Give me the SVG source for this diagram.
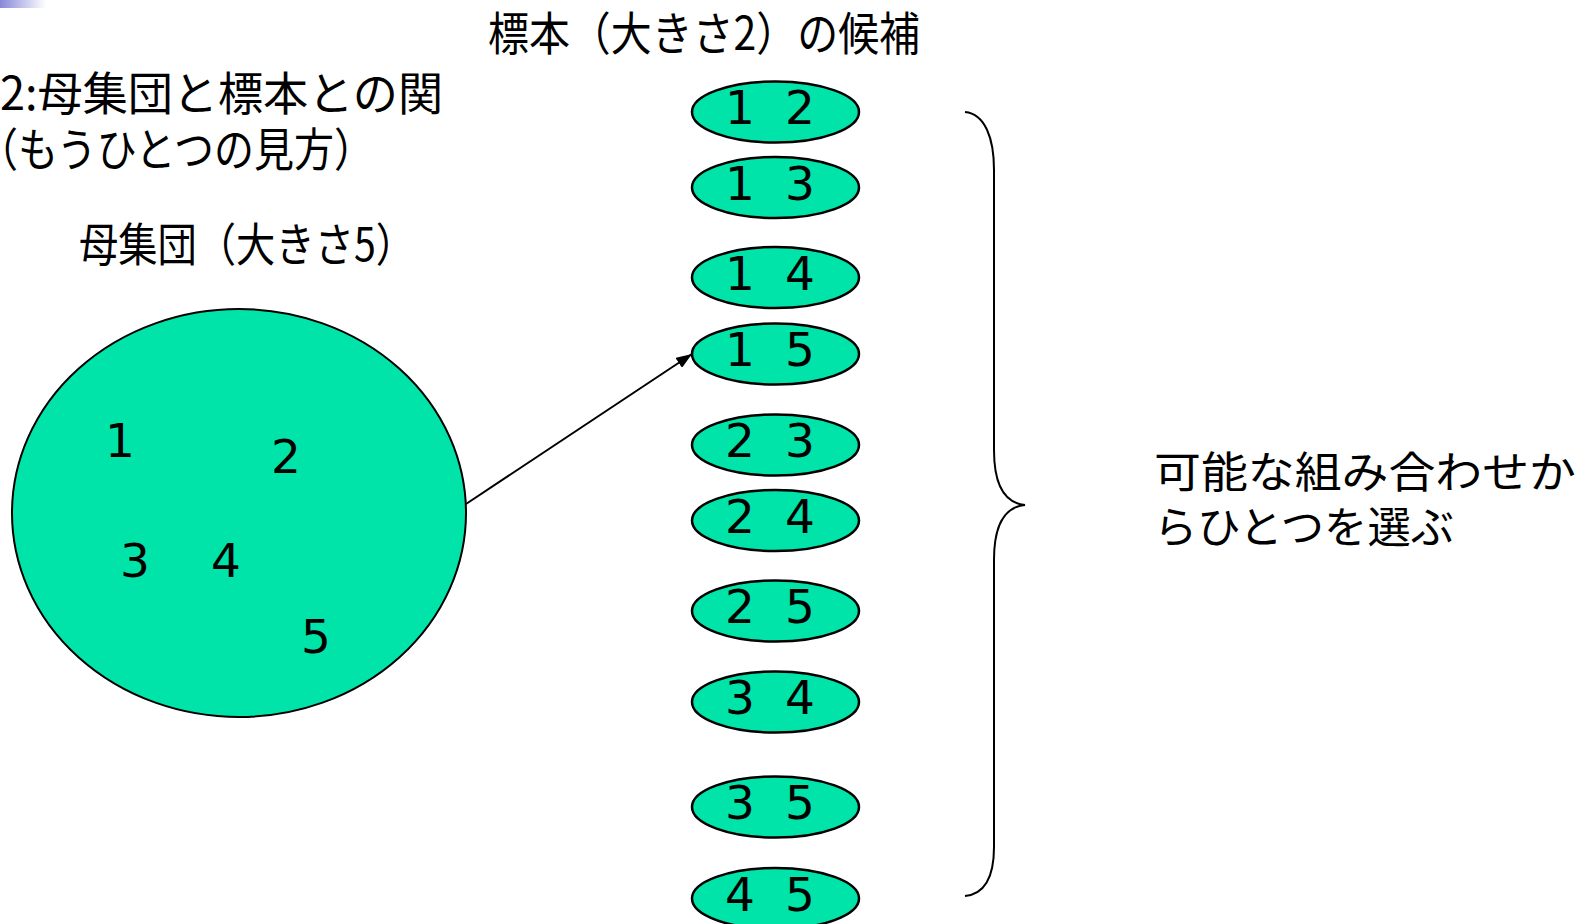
<svg xmlns="http://www.w3.org/2000/svg" width="1594" height="924" viewBox="0 0 1594 924">
<defs>
<linearGradient id="corner" x1="0" y1="0" x2="1" y2="0">
<stop offset="0" stop-color="#8888D8"/>
<stop offset="1" stop-color="#FFFFFF"/>
</linearGradient>
<marker id="arrow" viewBox="0 0 16 12" refX="16" refY="6" markerWidth="16" markerHeight="12" markerUnits="userSpaceOnUse" orient="auto">
<path d="M0,0 L16,6 L0,12 Z" fill="#000"/>
</marker>
<style>
.jp{font-family:"Noto Sans CJK JP","Noto Sans",sans-serif;fill:#000}
.num{font-family:"DejaVu Sans",Verdana,sans-serif;font-size:47px;fill:#000;text-anchor:middle}
.big{fill:#00E4AA;stroke:#000;stroke-width:2}
.small{fill:#00E4AA;stroke:#000;stroke-width:2.5}
.line{fill:none;stroke:#000;stroke-width:2}
</style>
</defs>
<rect width="1594" height="924" fill="#fff"/>
<rect x="0" y="0" width="46" height="8" fill="url(#corner)"/>

<g id="titles">
<text class="jp" x="0" y="110" font-size="46" textLength="443" lengthAdjust="spacingAndGlyphs">2:母集団と標本との関</text>
<text class="jp" x="-22" y="166" font-size="46" textLength="396" lengthAdjust="spacingAndGlyphs">（もうひとつの見方）</text>
<text class="jp" x="488" y="50" font-size="46" textLength="432" lengthAdjust="spacingAndGlyphs">標本（大きさ2）の候補</text>
</g>

<g id="population">
<text class="jp" x="79" y="261" font-size="46" textLength="336" lengthAdjust="spacingAndGlyphs">母集団（大きさ5）</text>
<ellipse class="big" cx="239" cy="513" rx="227" ry="204"/>
<text class="num" x="120" y="457">1</text>
<text class="num" x="286" y="473">2</text>
<text class="num" x="135" y="577">3</text>
<text class="num" x="226" y="577">4</text>
<text class="num" x="316" y="653">5</text>
</g>

<g id="s12"><ellipse class="small" cx="775.5" cy="112" rx="83.5" ry="30.5"/><text class="num"><tspan x="740" y="124">1</tspan><tspan x="800" y="124">2</tspan></text></g>
<g id="s13"><ellipse class="small" cx="775.5" cy="187.5" rx="83.5" ry="30.5"/><text class="num"><tspan x="740" y="199.5">1</tspan><tspan x="800" y="199.5">3</tspan></text></g>
<g id="s14"><ellipse class="small" cx="775.5" cy="277.5" rx="83.5" ry="30.5"/><text class="num"><tspan x="740" y="289.5">1</tspan><tspan x="800" y="289.5">4</tspan></text></g>
<g id="s15"><ellipse class="small" cx="775.5" cy="354" rx="83.5" ry="30.5"/><text class="num"><tspan x="740" y="366">1</tspan><tspan x="800" y="366">5</tspan></text></g>
<g id="s23"><ellipse class="small" cx="775.5" cy="445" rx="83.5" ry="30.5"/><text class="num"><tspan x="740" y="457">2</tspan><tspan x="800" y="457">3</tspan></text></g>
<g id="s24"><ellipse class="small" cx="775.5" cy="520.5" rx="83.5" ry="30.5"/><text class="num"><tspan x="740" y="532.5">2</tspan><tspan x="800" y="532.5">4</tspan></text></g>
<g id="s25"><ellipse class="small" cx="775.5" cy="611" rx="83.5" ry="30.5"/><text class="num"><tspan x="740" y="623">2</tspan><tspan x="800" y="623">5</tspan></text></g>
<g id="s34"><ellipse class="small" cx="775.5" cy="702" rx="83.5" ry="30.5"/><text class="num"><tspan x="740" y="714">3</tspan><tspan x="800" y="714">4</tspan></text></g>
<g id="s35"><ellipse class="small" cx="775.5" cy="807" rx="83.5" ry="30.5"/><text class="num"><tspan x="740" y="819">3</tspan><tspan x="800" y="819">5</tspan></text></g>
<g id="s45"><ellipse class="small" cx="775.5" cy="898.5" rx="83.5" ry="30.5"/><text class="num"><tspan x="740" y="910.5">4</tspan><tspan x="800" y="910.5">5</tspan></text></g>

<g id="brace-note">
<path class="line" d="M965,112 C985,114 994,138 994,170 L994,450 C994,485 1004,503 1025,505 C1004,507 994,525 994,560 L994,847 C994,876 985,894 965,896"/>
<text class="jp" x="1154" y="488" font-size="43" textLength="422" lengthAdjust="spacingAndGlyphs">可能な組み合わせか</text>
<text class="jp" x="1154" y="543" font-size="43" textLength="300" lengthAdjust="spacingAndGlyphs">らひとつを選ぶ</text>
</g>

<g id="connectors">
<line class="line" x1="466" y1="504" x2="692" y2="354" marker-end="url(#arrow)"/>
</g>
</svg>
